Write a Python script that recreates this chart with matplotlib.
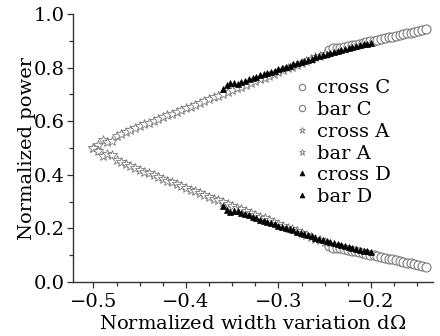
import matplotlib
matplotlib.use("Agg")
import matplotlib.pyplot as plt
from matplotlib.ticker import MultipleLocator

# ---- data ----
xA = [-0.500, -0.495, -0.490, -0.485, -0.480, -0.475, -0.470, -0.465, -0.460, -0.455,
      -0.450, -0.445, -0.440, -0.435, -0.430, -0.425, -0.420, -0.415, -0.410, -0.405,
      -0.400, -0.395, -0.390, -0.385, -0.380, -0.375, -0.370, -0.365, -0.360, -0.355,
      -0.350, -0.345, -0.340, -0.335, -0.330, -0.325, -0.320, -0.315, -0.310, -0.305,
      -0.300, -0.295, -0.290, -0.285, -0.280, -0.275, -0.270, -0.265, -0.260, -0.255,
      -0.250]
crossA = [0.500, 0.513, 0.530, 0.524, 0.528, 0.546, 0.553, 0.560, 0.567, 0.574,
          0.581, 0.588, 0.595, 0.601, 0.608, 0.615, 0.622, 0.628, 0.635, 0.642,
          0.649, 0.655, 0.662, 0.669, 0.676, 0.682, 0.689, 0.696, 0.703, 0.709,
          0.716, 0.723, 0.729, 0.736, 0.743, 0.750, 0.756, 0.763, 0.770, 0.777,
          0.784, 0.790, 0.797, 0.804, 0.811, 0.818, 0.824, 0.831, 0.838, 0.845,
          0.852]
barA = [0.500, 0.487, 0.471, 0.477, 0.473, 0.455, 0.447, 0.440, 0.433, 0.426,
        0.419, 0.412, 0.405, 0.399, 0.392, 0.385, 0.378, 0.372, 0.365, 0.358,
        0.351, 0.345, 0.338, 0.331, 0.324, 0.318, 0.311, 0.304, 0.297, 0.291,
        0.284, 0.277, 0.271, 0.264, 0.257, 0.250, 0.244, 0.237, 0.230, 0.223,
        0.216, 0.210, 0.203, 0.196, 0.189, 0.182, 0.176, 0.169, 0.162, 0.155,
        0.148]

xC = [-0.245, -0.241, -0.237, -0.233, -0.229, -0.225, -0.221, -0.217, -0.213, -0.209,
      -0.205, -0.201, -0.197, -0.193, -0.189, -0.185, -0.181, -0.177, -0.173, -0.169,
      -0.165, -0.161, -0.157, -0.153, -0.149, -0.145, -0.141]
crossC = [0.866, 0.872, 0.873, 0.874, 0.877, 0.880, 0.883, 0.886, 0.889, 0.892,
          0.895, 0.898, 0.901, 0.904, 0.907, 0.910, 0.913, 0.916, 0.919, 0.922,
          0.925, 0.928, 0.931, 0.934, 0.937, 0.940, 0.943]
barC = [0.134, 0.128, 0.127, 0.126, 0.123, 0.120, 0.117, 0.114, 0.111, 0.108,
        0.105, 0.102, 0.099, 0.096, 0.093, 0.090, 0.087, 0.084, 0.081, 0.078,
        0.075, 0.072, 0.069, 0.066, 0.063, 0.060, 0.057]

xD = [-0.360, -0.356, -0.352, -0.348, -0.344, -0.340, -0.336, -0.332, -0.328, -0.324,
      -0.320, -0.316, -0.312, -0.308, -0.304, -0.300, -0.296, -0.292, -0.288, -0.284,
      -0.280, -0.276, -0.272, -0.268, -0.264, -0.260, -0.256, -0.252, -0.248, -0.244,
      -0.240, -0.236, -0.232, -0.228, -0.224, -0.220, -0.216, -0.212, -0.208, -0.204,
      -0.200]
crossD = [0.722, 0.735, 0.744, 0.741, 0.740, 0.746, 0.751, 0.756, 0.761, 0.766,
          0.771, 0.776, 0.780, 0.785, 0.789, 0.794, 0.799, 0.803, 0.808, 0.812,
          0.817, 0.821, 0.826, 0.830, 0.834, 0.839, 0.843, 0.847, 0.851, 0.855,
          0.859, 0.863, 0.866, 0.870, 0.874, 0.877, 0.881, 0.884, 0.887, 0.890,
          0.893]
barD = [0.282, 0.268, 0.262, 0.263, 0.263, 0.258, 0.253, 0.248, 0.243, 0.238,
        0.233, 0.228, 0.224, 0.219, 0.215, 0.210, 0.205, 0.201, 0.196, 0.192,
        0.187, 0.183, 0.178, 0.174, 0.170, 0.165, 0.161, 0.157, 0.153, 0.149,
        0.145, 0.141, 0.138, 0.134, 0.130, 0.127, 0.123, 0.120, 0.117, 0.114,
        0.111]

labels = ["cross C", "bar C", "cross A", "bar A", "cross D", "bar D"]

# ---- style ----
plt.rcParams["font.family"] = ["DejaVu Serif"]
plt.rcParams["mathtext.fontset"] = "custom"
plt.rcParams["mathtext.rm"] = "DejaVu Serif"
plt.rcParams["mathtext.it"] = "DejaVu Serif:italic"

fig = plt.figure(figsize=(4.4, 3.36), dpi=100)
ax = fig.add_axes([0.166, 0.161, 0.818, 0.797])

gray = "#7a7a7a"
circ = dict(marker="o", ms=6.5, mfc="white", mec=gray, mew=0.8, ls="none")
star = dict(marker="*", ms=7, mfc="white", mec=gray, mew=0.6, ls="none")
tri = dict(marker="^", ms=5, mfc="black", mec="black", mew=0.5, ls="none")

h1, = ax.plot(xC, crossC, **circ)
h2, = ax.plot(xC, barC, **circ)
h3, = ax.plot(xA, crossA, **star)
h4, = ax.plot(xA, barA, **star)
h5, = ax.plot(xD, crossD, **tri)
h6, = ax.plot(xD, barD, **tri)

ax.set_xlim(-0.522, -0.133)
ax.set_ylim(0.0, 1.0)
ax.xaxis.set_major_locator(MultipleLocator(0.1))
ax.xaxis.set_minor_locator(MultipleLocator(0.025))
ax.yaxis.set_major_locator(MultipleLocator(0.2))
ax.yaxis.set_minor_locator(MultipleLocator(0.1))
ax.xaxis.set_major_formatter(plt.FuncFormatter(lambda v, p: ("%.1f" % v).replace("-", "\u2212")))
ax.yaxis.set_major_formatter(plt.FuncFormatter(lambda v, p: "%.1f" % v))

for s in ["top", "right"]:
    ax.spines[s].set_visible(False)
for s in ["left", "bottom"]:
    ax.spines[s].set_color("#333333")
    ax.spines[s].set_linewidth(1.0)

ax.tick_params(which="both", direction="out", color="#333333", width=0.9)
ax.tick_params(which="major", length=4, labelsize=14)
ax.tick_params(axis="x", which="major", pad=4)
ax.tick_params(axis="y", which="major", pad=2)
ax.tick_params(which="minor", length=3)

ax.set_xlabel("Normalized width variation d$\\mathit{\\Omega}$", fontsize=14, labelpad=3)
ax.set_ylabel("Normalized power", fontsize=14, labelpad=-2)

leg = ax.legend([h1, h2, h3, h4, h5, h6], labels, loc="upper left",
                bbox_to_anchor=(0.597, 0.785), frameon=False, fontsize=14,
                handlelength=0.6, handletextpad=0.5, labelspacing=0.19,
                borderaxespad=0, markerscale=0.7)

fig.savefig("out.png", dpi=100)
